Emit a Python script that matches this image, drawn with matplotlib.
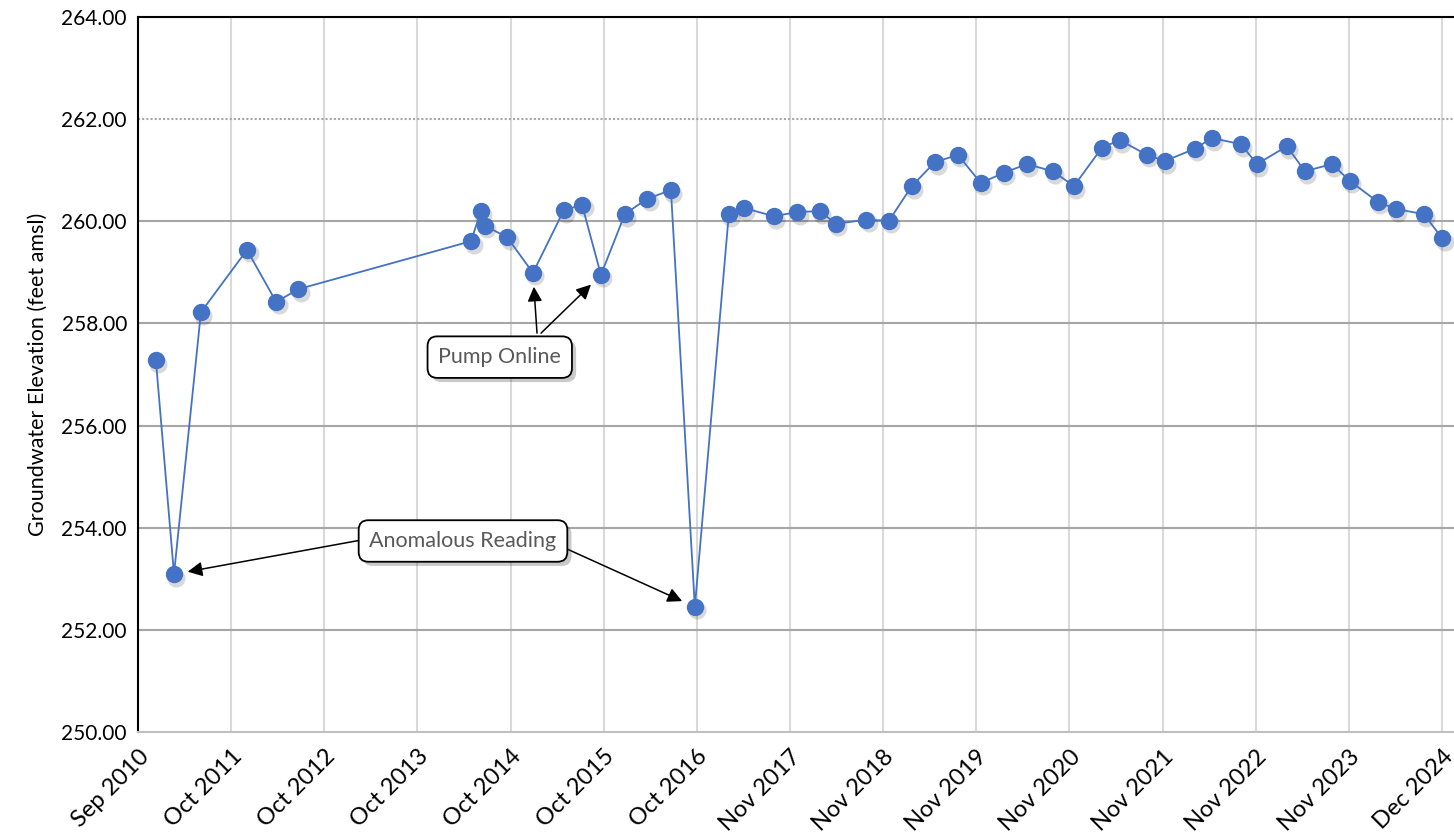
import matplotlib
matplotlib.use("Agg")
import matplotlib.pyplot as plt
import matplotlib.patheffects as pe
import matplotlib.transforms as mtrans
import numpy as np
import pandas as pd

# mesures (date, niveau en feet amsl)
dates = ["2010-12-08", "2011-02-18", "2011-06-05", "2011-12-05", "2012-03-30",
         "2012-06-25", "2014-05-13", "2014-06-21", "2014-07-07", "2014-10-03",
         "2015-01-14", "2015-05-17", "2015-07-28", "2015-10-11", "2016-01-14",
         "2016-04-11", "2016-07-15", "2016-10-18", "2017-03-02", "2017-05-01",
         "2017-08-28", "2017-11-28", "2018-02-27", "2018-05-01", "2018-08-29",
         "2018-11-28", "2019-02-27", "2019-05-30", "2019-08-29", "2019-11-28",
         "2020-02-28", "2020-05-29", "2020-09-09", "2020-12-02", "2021-03-23",
         "2021-06-02", "2021-09-18", "2021-11-28", "2022-03-27", "2022-06-03",
         "2022-09-26", "2022-11-29", "2023-03-28", "2023-06-07", "2023-09-23",
         "2023-12-03", "2024-03-23", "2024-06-03", "2024-09-22", "2024-12-03"]
niveaux = [257.28, 253.09, 258.22, 259.44, 258.42,
           258.67, 259.61, 260.20, 259.91, 259.69,
           258.99, 260.22, 260.32, 258.95, 260.14,
           260.44, 260.61, 252.45, 260.14, 260.26,
           260.10, 260.18, 260.20, 259.95, 260.03,
           260.01, 260.69, 261.16, 261.30, 260.75,
           260.95, 261.12, 260.98, 260.69, 261.44,
           261.59, 261.30, 261.18, 261.42, 261.63,
           261.51, 261.12, 261.47, 260.98, 261.12,
           260.79, 260.38, 260.24, 260.14, 259.67]
tick_labels = ["Sep 2010", "Oct 2011", "Oct 2012", "Oct 2013", "Oct 2014",
               "Oct 2015", "Oct 2016", "Nov 2017", "Nov 2018", "Nov 2019",
               "Nov 2020", "Nov 2021", "Nov 2022", "Nov 2023", "Dec 2024"]
pompe_idx = [10, 13]      # Pump Online
anomalie_idx = [1, 17]    # Anomalous Reading

x = pd.to_datetime(dates)
t0 = pd.Timestamp("2010-09-28")
pas = 370
ticks = [t0 + pd.Timedelta(days=pas * k) for k in range(len(tick_labels))]

bleu = "#4472C4"
police = "Lato"

fig = plt.figure(figsize=(14.54, 8.33), dpi=100)
ax = fig.add_axes([138 / 1454, 1 - 732 / 833, 1 - 138 / 1454, (732 - 17) / 833])

# ombre des marqueurs
ombre = mtrans.offset_copy(ax.transData, fig=fig, x=2.5, y=-3.5, units="dots")
ax.plot(x, niveaux, "o", ms=13, color="#000000", alpha=0.15, mec="none",
        transform=ombre, zorder=2)
ax.plot(x, niveaux, "-", color=bleu, lw=1.3, zorder=3)
ax.plot(x, niveaux, "o", ms=11.5, color=bleu, mec=bleu, zorder=4)

ax.set_ylim(250, 264)
ax.set_xlim(t0, t0 + pd.Timedelta(days=pas * 14 * 1316 / 1304))
ax.set_yticks(np.arange(250, 264.1, 2))
ax.set_yticklabels([f"{v:.2f}" for v in np.arange(250, 264.1, 2)],
                   fontsize=15, family=police)
ax.set_xticks(ticks)
ax.set_xticklabels(tick_labels, rotation=45, ha="right", rotation_mode="anchor",
                   fontsize=17, family=police)
ax.tick_params(length=0, pad=8)
ax.tick_params(axis="x", pad=10)

# grille
for xt in ticks:
    ax.axvline(xt, color="#d9d9d9", lw=1.5, zorder=0)
for yv in [252, 254, 256, 258, 260]:
    ax.axhline(yv, color="#a6a6a6", lw=1.5, zorder=1)
ax.axhline(262, color="#a6a6a6", lw=1.5, ls=(0, (1, 1)), zorder=1)

ax.spines["right"].set_visible(False)
ax.spines["bottom"].set_color("#bfbfbf")
ax.spines["bottom"].set_linewidth(1.5)
ax.spines["left"].set_linewidth(1.5)
ax.spines["top"].set_linewidth(1.5)

ax.set_ylabel("Groundwater Elevation (feet amsl)", fontsize=15.5, family=police,
              labelpad=10)


def bulle(xc, yc, texte):
    t = ax.text(pd.Timestamp(xc), yc, texte, ha="center", va="center",
                fontsize=15.5, family=police, color="#595959", zorder=6,
                bbox=dict(boxstyle="round,pad=0.5,rounding_size=0.45",
                          fc="white", ec="black", lw=1.3))
    t.get_bbox_patch().set_path_effects(
        [pe.SimplePatchShadow(offset=(3, -3), alpha=0.3), pe.Normal()])
    return t


def fleche(depart, idx):
    ax.annotate("", xy=(x[idx], niveaux[idx]),
                xytext=(pd.Timestamp(depart[0]), depart[1]),
                arrowprops=dict(arrowstyle="-|>", color="black", lw=1.1,
                                mutation_scale=22, shrinkA=0, shrinkB=10),
                zorder=5)


bulle("2014-09-04", 257.34, "Pump Online")
fleche(("2015-01-30", 257.81), pompe_idx[0])
fleche(("2015-02-15", 257.81), pompe_idx[1])

bulle("2014-04-11", 253.74, "Anomalous Reading")
fleche(("2013-05-10", 253.82), anomalie_idx[0])
fleche(("2015-03-20", 253.74), anomalie_idx[1])

fig.savefig("out.png", dpi=100)
